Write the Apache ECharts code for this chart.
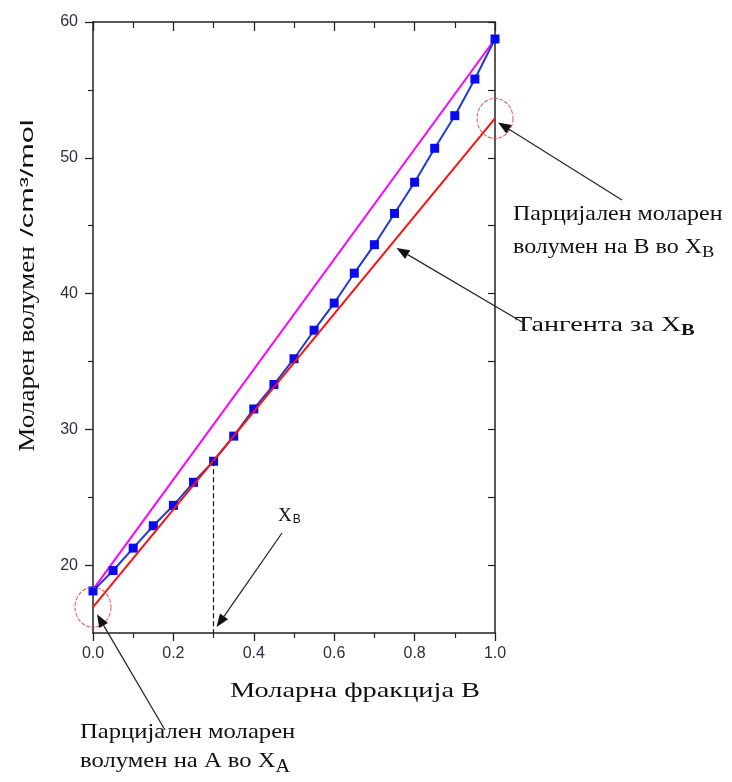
<!DOCTYPE html>
<html>
<head>
<meta charset="utf-8">
<script src="https://cdn.jsdelivr.net/npm/echarts@6/dist/echarts.min.js"></script>
<style>
  html, body { margin: 0; padding: 0; background: #fff; }
  #chart { width: 732px; height: 782px; }
</style>
</head>
<body>
<div id="chart"></div>
<script>
// Mole fraction of B (composition axis)
const moleFractionB = [0.00, 0.05, 0.10, 0.15, 0.20, 0.25, 0.30, 0.35, 0.40, 0.45, 0.50,
                       0.55, 0.60, 0.65, 0.70, 0.75, 0.80, 0.85, 0.90, 0.95, 1.00];
// Measured molar volume of the mixture, cm3/mol
const molarVolume = [18.1, 19.6, 21.25, 22.9, 24.4, 26.1, 27.65, 29.5, 31.5, 33.3, 35.2,
                     37.3, 39.3, 41.5, 43.6, 45.9, 48.2, 50.7, 53.1, 55.8, 58.75];
// Ideal mixing line between the pure-component volumes
const idealX = [0, 1];
const idealV = [18.2, 58.75];
// Tangent to the curve at the chosen composition
const tangentX = [0, 1];
const tangentV = [16.9, 52.9];
const chosenX = 0.3;
const chosenV = 27.65;
// Axis ticks
const yMajorTicks = [20, 30, 40, 50, 60];
const yMinorTicks = [25, 35, 45, 55];
const yAllTicks = [20, 25, 30, 35, 40, 45, 50, 55, 60];
const xMin = 0, xMax = 1, yMin = 15, yMax = 60;

const axisColor = '#222';
const labelColor = '#2e2e3c';
const serif = '"Liberation Serif", "DejaVu Serif", serif';
const sans = '"Liberation Sans", Arial, sans-serif';

const chart = echarts.init(document.getElementById('chart'));

const zip = (xs, ys) => xs.map((x, i) => [x, ys[i]]);

const baseY = {
  type: 'value', min: yMin, max: yMax, gridIndex: 0,
  splitLine: { show: false },
  axisLine: { show: false, lineStyle: { color: axisColor, width: 1.5 } },
  axisLabel: { show: false },
  axisTick: { show: false }
};

chart.setOption({
  animation: false,
  backgroundColor: '#fff',
  grid: { left: 93, right: 237, top: 22, bottom: 149, containLabel: false },
  xAxis: [
    {
      type: 'value', min: xMin, max: xMax, interval: 0.2, position: 'bottom',
      axisLine: { show: true, onZero: false, lineStyle: { color: axisColor, width: 1.5 } },
      axisTick: { show: true, inside: false, length: 8, lineStyle: { color: axisColor, width: 1.3 } },
      minorTick: { show: true, splitNumber: 2, length: 5, lineStyle: { color: axisColor, width: 1.2 } },
      axisLabel: { color: labelColor, fontFamily: sans, fontSize: 16, margin: 13,
                   formatter: v => v.toFixed(1) },
      splitLine: { show: false }
    },
    {
      type: 'value', min: xMin, max: xMax, interval: 0.2, position: 'top',
      axisLine: { show: true, onZero: false, lineStyle: { color: axisColor, width: 1.5 } },
      axisTick: { show: true, inside: true, length: 9, lineStyle: { color: axisColor, width: 1.3 } },
      minorTick: { show: true, splitNumber: 2, length: 6, lineStyle: { color: axisColor, width: 1.2 } },
      axisLabel: { show: false },
      splitLine: { show: false }
    }
  ],
  yAxis: [
    Object.assign({}, baseY, {
      position: 'left',
      axisLine: { show: true, onZero: false, lineStyle: { color: axisColor, width: 1.5 } },
      axisTick: { show: true, inside: false, length: 8, customValues: yMajorTicks,
                  lineStyle: { color: axisColor, width: 1.3 } },
      axisLabel: { show: true, customValues: yMajorTicks, color: labelColor,
                   fontFamily: sans, fontSize: 16, margin: 15 }
    }),
    Object.assign({}, baseY, {
      position: 'left',
      axisTick: { show: true, inside: false, length: 5, customValues: yMinorTicks,
                  lineStyle: { color: axisColor, width: 1.2 } }
    }),
    Object.assign({}, baseY, {
      position: 'right',
      axisLine: { show: true, onZero: false, lineStyle: { color: axisColor, width: 1.5 } },
      axisTick: { show: true, inside: true, length: 7, customValues: yAllTicks,
                  lineStyle: { color: axisColor, width: 1.2 } }
    })
  ],
  series: [
    {
      name: 'ideal', type: 'line', data: zip(idealX, idealV),
      symbol: 'none', lineStyle: { color: '#ff00ff', width: 2 }, z: 2
    },
    {
      name: 'mixture', type: 'line', data: zip(moleFractionB, molarVolume),
      symbol: 'rect', symbolSize: 9, showSymbol: true,
      itemStyle: { color: '#0a0af0' },
      lineStyle: { color: '#1c3ad6', width: 2 }, z: 3
    },
    {
      name: 'tangent', type: 'line', data: zip(tangentX, tangentV),
      symbol: 'none', lineStyle: { color: '#ff1010', width: 2 }, z: 4,
      markLine: {
        silent: true, symbol: ['none', 'none'], animation: false,
        label: { show: false },
        lineStyle: { color: '#111', width: 1.2, type: [5, 3] },
        data: [[{ coord: [chosenX, chosenV] }, { coord: [chosenX, yMin] }]]
      }
    },
    {
      // circles marking the two intercepts of the tangent
      name: 'intercepts', type: 'scatter', clip: false,
      data: zip(tangentX, tangentV),
      symbol: 'circle', symbolSize: [36, 40],
      itemStyle: { color: 'rgba(0,0,0,0)', borderColor: '#e23a3a', borderWidth: 1.1, borderType: [4, 1.5] },
      z: 5
    }
  ]
});

// ---- annotations: labels and arrows ----
const px = (x, y) => chart.convertToPixel({ seriesIndex: 1 }, [x, y]);

function arrow(tail, tip) {
  const dx = tip[0] - tail[0], dy = tip[1] - tail[1];
  const len = Math.hypot(dx, dy);
  const ux = dx / len, uy = dy / len;
  const headL = 13, headW = 5;
  const bx = tip[0] - ux * headL, by = tip[1] - uy * headL;
  return [
    { type: 'line', shape: { x1: tail[0], y1: tail[1], x2: bx, y2: by },
      style: { stroke: '#2a2a2a', lineWidth: 1.3 }, z: 20 },
    { type: 'polygon', shape: { points: [tip, [bx - uy * headW, by + ux * headW], [bx + uy * headW, by - ux * headW]] },
      style: { fill: '#111' }, z: 20 }
  ];
}

function label(x, y, text, opts) {
  return Object.assign({
    type: 'text', x: x, y: y, z: 30,
    style: Object.assign({
      text: text, font: '22px ' + serif, fill: '#111',
      textAlign: 'left', textVerticalAlign: 'middle'
    }, opts && opts.style)
  }, opts && opts.el);
}

const subRich = (size, pad, bold) => ({
  sub: { fontFamily: serif, fontSize: size, fontWeight: bold ? 'bold' : 'normal',
         padding: [pad, 0, 0, 0], fill: '#111', color: '#111' },
  n: { fontFamily: serif, fontSize: 22, fill: '#111', color: '#111' }
});

const rightTip = px(1, tangentV[1]);
const leftTip = px(0, tangentV[0]);
const xbTip = px(chosenX, yMin);
const tanTip = px(0.745, tangentV[0] + 0.745 * (tangentV[1] - tangentV[0]));

const graphics = [].concat(
  arrow([622, 200], [rightTip[0] + 3, rightTip[1] + 4]),
  arrow([522, 322], [tanTip[0] + 4, tanTip[1] + 5]),
  arrow([282, 533], [xbTip[0] + 3, xbTip[1] - 6]),
  arrow([165, 730], [leftTip[0] + 4, leftTip[1] + 7]),
  [
    // axis titles
    label(230, 691, 'Моларна фракција B', { el: { scaleX: 1.29 } }),
    label(28, 349, 'Моларен волумен', {
      el: { rotation: Math.PI / 2, scaleX: 1.13 },
      style: { textAlign: 'center', font: '24px ' + serif }
    }),
    label(28, 178, '/cm³/mol', {
      el: { rotation: Math.PI / 2, scaleX: 1.7 },
      style: { textAlign: 'center', font: '18px ' + sans }
    }),
    // partial molar volume of B
    label(513, 214, 'Парцијален моларен', { el: { scaleX: 1.09 } }),
    label(513, 247, '{n|волумен на B во X}{sub|B}', { el: { scaleX: 1.09 }, style: { rich: subRich(17, 12) } }),
    // tangent
    label(515, 325, '{n|Тангента за X}{sub|B}', { el: { scaleX: 1.28 }, style: { rich: subRich(16, 12, true) } }),
    // chosen composition
    label(278, 516, '{n|X}{sub|B}', { style: { rich: {
      n: { fontFamily: serif, fontSize: 19, fill: '#111', color: '#111' },
      sub: { fontFamily: sans, fontSize: 12, padding: [8, 0, 0, 1], fill: '#111', color: '#111' } } } }),
    // partial molar volume of A
    label(80, 732, 'Парцијален моларен', { el: { scaleX: 1.12 } }),
    label(80, 761, '{n|волумен на A во X}{sub|A}', { el: { scaleX: 1.12 }, style: { rich: subRich(18, 12) } })
  ]
);

chart.setOption({ graphic: graphics });
</script>
</body>
</html>
